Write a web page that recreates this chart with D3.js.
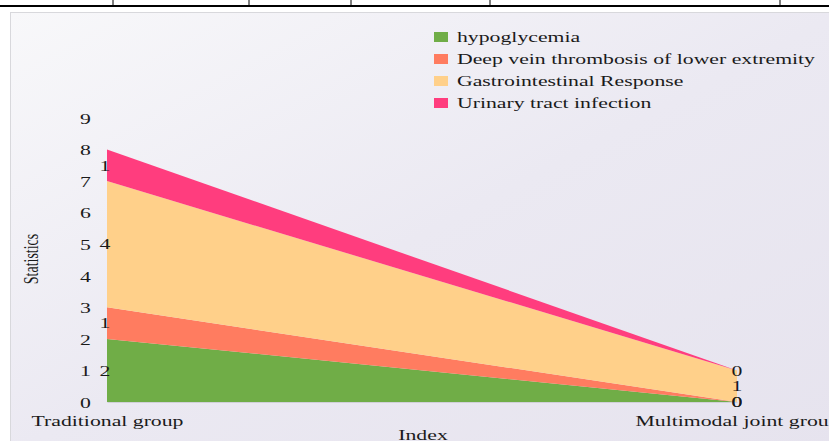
<!DOCTYPE html>
<html><head><meta charset="utf-8">
<script src="https://cdn.jsdelivr.net/npm/d3@7/dist/d3.min.js"></script>
<style>body{margin:0;background:#fff;overflow:hidden}svg{display:block;font-family:"Liberation Serif","Times New Roman",serif}</style>
</head><body><svg id="c" width="829" height="441"></svg>
<script>
const categories = ["Traditional group", "Multimodal joint group"];
const seriesNames = ["hypoglycemia", "Deep vein thrombosis of lower extremity", "Gastrointestinal Response", "Urinary tract infection"];
const hypoglycemia = [2, 0];
const dvt = [1, 0];
const gastro = [4, 1];
const uti = [1, 0];
const colors = ["#70ad47", "#ff7c60", "#ffd08a", "#ff3d7e"];
const yTicks = [0,1,2,3,4,5,6,7,8,9];
const SX = 1.45; // horizontal stretch of text seen in the reference
const FONT = "'Liberation Serif','Times New Roman',serif";

const svg = d3.select("#c");
const defs = svg.append("defs");
const g = defs.append("linearGradient").attr("id","bg").attr("x1","0").attr("y1","0").attr("x2","1").attr("y2","1");
g.append("stop").attr("offset","0").attr("stop-color","#f8f8fa");
g.append("stop").attr("offset","0.5").attr("stop-color","#ebe9f2");
g.append("stop").attr("offset","1").attr("stop-color","#e6e3ee");

// top table fragment
svg.append("line").attr("x1",0).attr("x2",829).attr("y1",6).attr("y2",6).attr("stroke","#000").attr("stroke-width",2);
[113,249,351,490,780].forEach(x=>svg.append("line").attr("x1",x).attr("x2",x).attr("y1",0).attr("y2",6).attr("stroke","#000").attr("stroke-width",1));

svg.append("rect").attr("x",10.5).attr("y",12.5).attr("width",830).attr("height",440).attr("fill","url(#bg)").attr("stroke","#d8d8dc");

const x = d3.scalePoint().domain(categories).range([107, 737]);
const y = d3.scaleLinear().domain([0, 9]).range([402, 118]);

const rows = categories.map((c,i)=>({cat:c, s0:hypoglycemia[i], s1:dvt[i], s2:gastro[i], s3:uti[i]}));
const stack = d3.stack().keys(["s0","s1","s2","s3"])(rows);
const area = d3.area().x(d=>x(d.data.cat)).y0(d=>y(d[0])).y1(d=>y(d[1]));
svg.append("g").selectAll("path").data(stack).join("path").attr("d",area).attr("fill",(d,i)=>colors[i]);

function stretched(parent, tx, ty, str, anchor){
  return parent.append("text").attr("transform",`translate(${tx},${ty}) scale(${SX},1)`)
    .attr("text-anchor",anchor||"middle").attr("dy","0.35em").attr("font-size",15).attr("font-family",FONT).attr("fill","#1a1a1a").text(str);
}

// y ticks
const yAxis = svg.append("g").attr("transform","translate(91,0)")
  .call(d3.axisLeft(y).tickValues(yTicks).tickSize(0).tickPadding(0));
yAxis.attr("font-family",FONT).attr("font-size",15);
yAxis.select(".domain").remove();
yAxis.selectAll("text").attr("x",0).attr("fill","#1a1a1a").attr("dy","0.35em")
  .attr("transform",`scale(${SX},1)`);

// x axis
const xAxis = svg.append("g").attr("transform","translate(0,402)")
  .call(d3.axisBottom(x).tickSize(0).tickPadding(0));
xAxis.attr("font-family",FONT).attr("font-size",15);
xAxis.select(".domain").attr("stroke","#d0d0d8");
xAxis.selectAll("text").attr("y",24).attr("dy","0").attr("fill","#1a1a1a")
  .attr("transform",`scale(${SX},1)`);

// data labels
stack.forEach((s)=>{
  s.forEach((d,i)=>{
    const v = d[1]-d[0];
    const cy = y((d[0]+d[1])/2);
    const xx = x(d.data.cat) + (i===0 ? -2 : 0);
    stretched(svg, xx, cy, v, "middle");
  });
});

// axis titles
svg.append("text").attr("transform",`translate(423,440) scale(${SX},1)`).attr("text-anchor","middle").attr("font-size",15).attr("font-family",FONT).attr("fill","#1a1a1a").text("Index");
svg.append("text").attr("transform",`translate(38,259) rotate(-90) scale(0.93,${SX})`).attr("text-anchor","middle").attr("font-size",15).attr("font-family",FONT).attr("fill","#1a1a1a").text("Statistics");

// legend
const lg = svg.append("g");
seriesNames.forEach((n,i)=>{
  const ly = 37 + i*22;
  lg.append("rect").attr("x",434).attr("y",ly-5).attr("width",14).attr("height",10).attr("fill",colors[i]);
  stretched(lg, 457, ly, n, "start");
});
</script></body></html>
